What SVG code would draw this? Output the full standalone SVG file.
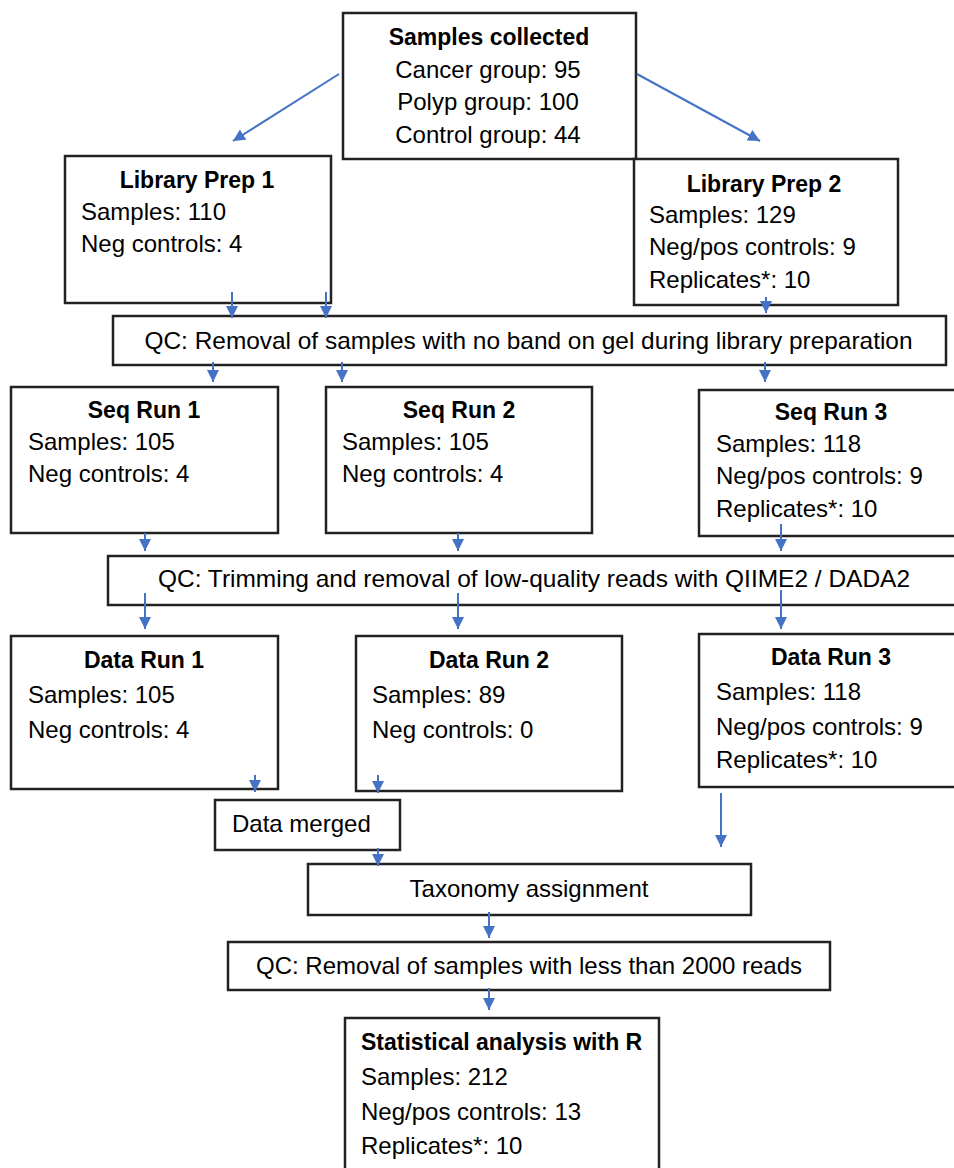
<svg xmlns="http://www.w3.org/2000/svg" width="954" height="1168" viewBox="0 0 954 1168">
<defs>
<marker id="ah" markerUnits="userSpaceOnUse" markerWidth="13" markerHeight="12" refX="12" refY="6" orient="auto">
<path d="M0,0 L12,6 L0,12 z" fill="#4472C4"/>
</marker>
<style>
.box{fill:#fff;stroke:#222;stroke-width:2.5}
.t{font-family:"Liberation Sans",Arial,sans-serif;font-size:24px;fill:#000}
.b{font-family:"Liberation Sans",Arial,sans-serif;font-size:23px;font-weight:bold;fill:#000}
.m{text-anchor:middle}
.c{stroke:#4472C4;stroke-width:2;fill:none;marker-end:url(#ah)}
</style>
</defs>
<rect width="954" height="1168" fill="#fff"/>
<g id="samples">
<rect class="box" x="343" y="13" width="293" height="146"/>
<text class="b m" x="489" y="45">Samples collected</text>
<text class="t m" x="488" y="78">Cancer group: 95</text>
<text class="t m" x="488" y="110">Polyp group: 100</text>
<text class="t m" x="488" y="143">Control group: 44</text>
</g>
<g id="libprep1">
<rect class="box" x="65" y="156" width="266" height="147"/>
<text class="b m" x="197" y="188">Library Prep 1</text>
<text class="t" x="81" y="220">Samples: 110</text>
<text class="t" x="81" y="252">Neg controls: 4</text>
</g>
<g id="libprep2">
<rect class="box" x="634" y="159" width="264" height="146"/>
<text class="b m" x="764" y="192">Library Prep 2</text>
<text class="t" x="649" y="223">Samples: 129</text>
<text class="t" x="649" y="255">Neg/pos controls: 9</text>
<text class="t" x="649" y="288">Replicates*: 10</text>
</g>
<g id="qc1">
<rect class="box" x="113" y="316" width="833" height="49"/>
<text class="t m" x="528.5" y="349" textLength="768" lengthAdjust="spacingAndGlyphs">QC: Removal of samples with no band on gel during library preparation</text>
</g>
<g id="seq1">
<rect class="box" x="11" y="387" width="267" height="146"/>
<text class="b m" x="144" y="418">Seq Run 1</text>
<text class="t" x="28" y="450">Samples: 105</text>
<text class="t" x="28" y="482">Neg controls: 4</text>
</g>
<g id="seq2">
<rect class="box" x="326" y="387" width="266" height="146"/>
<text class="b m" x="459" y="418">Seq Run 2</text>
<text class="t" x="342" y="450">Samples: 105</text>
<text class="t" x="342" y="482">Neg controls: 4</text>
</g>
<g id="seq3">
<rect class="box" x="699" y="390" width="270" height="146"/>
<text class="b m" x="831" y="420">Seq Run 3</text>
<text class="t" x="716" y="452">Samples: 118</text>
<text class="t" x="716" y="484">Neg/pos controls: 9</text>
<text class="t" x="716" y="517">Replicates*: 10</text>
</g>
<g id="qc2">
<rect class="box" x="108" y="556" width="862" height="49"/>
<text class="t m" x="534" y="587" textLength="752" lengthAdjust="spacingAndGlyphs">QC: Trimming and removal of low-quality reads with QIIME2 / DADA2</text>
</g>
<g id="data1">
<rect class="box" x="11" y="636" width="267" height="153"/>
<text class="b m" x="144" y="668">Data Run 1</text>
<text class="t" x="28" y="703">Samples: 105</text>
<text class="t" x="28" y="738">Neg controls: 4</text>
</g>
<g id="data2">
<rect class="box" x="356" y="636" width="266" height="155"/>
<text class="b m" x="489" y="668">Data Run 2</text>
<text class="t" x="372" y="703">Samples: 89</text>
<text class="t" x="372" y="738">Neg controls: 0</text>
</g>
<g id="data3">
<rect class="box" x="699" y="634" width="270" height="153"/>
<text class="b m" x="831" y="665">Data Run 3</text>
<text class="t" x="716" y="700">Samples: 118</text>
<text class="t" x="716" y="735">Neg/pos controls: 9</text>
<text class="t" x="716" y="768">Replicates*: 10</text>
</g>
<g id="merged">
<rect class="box" x="215" y="800" width="185" height="50"/>
<text class="t" x="232" y="832">Data merged</text>
</g>
<g id="taxonomy">
<rect class="box" x="308" y="864" width="443" height="51"/>
<text class="t m" x="529" y="897">Taxonomy assignment</text>
</g>
<g id="qc3">
<rect class="box" x="228" y="942" width="602" height="48"/>
<text class="t m" x="529" y="974" textLength="546" lengthAdjust="spacingAndGlyphs">QC: Removal of samples with less than 2000 reads</text>
</g>
<g id="stats">
<rect class="box" x="345" y="1018" width="314" height="170"/>
<text class="b" x="361" y="1050">Statistical analysis with R</text>
<text class="t" x="361" y="1085">Samples: 212</text>
<text class="t" x="361" y="1120">Neg/pos controls: 13</text>
<text class="t" x="361" y="1154">Replicates*: 10</text>
</g>
<g id="connectors">
<line class="c" x1="339" y1="74" x2="233" y2="141"/>
<line class="c" x1="637" y1="74" x2="760" y2="141"/>
<line class="c" x1="232" y1="292" x2="232" y2="318"/>
<line class="c" x1="326" y1="292" x2="326" y2="318"/>
<line class="c" x1="766" y1="297" x2="766" y2="313"/>
<line class="c" x1="213" y1="362" x2="213" y2="382"/>
<line class="c" x1="342" y1="362" x2="342" y2="382"/>
<line class="c" x1="765" y1="362" x2="765" y2="382"/>
<line class="c" x1="145" y1="533" x2="145" y2="551"/>
<line class="c" x1="458" y1="533" x2="458" y2="551"/>
<line class="c" x1="781" y1="524" x2="781" y2="551"/>
<line class="c" x1="145" y1="593" x2="145" y2="629"/>
<line class="c" x1="458" y1="593" x2="458" y2="629"/>
<line class="c" x1="781" y1="590" x2="781" y2="629"/>
<line class="c" x1="255" y1="775" x2="255" y2="792"/>
<line class="c" x1="378" y1="775" x2="378" y2="793"/>
<line class="c" x1="378" y1="848" x2="378" y2="866"/>
<line class="c" x1="721" y1="793" x2="721" y2="847"/>
<line class="c" x1="489" y1="912" x2="489" y2="938"/>
<line class="c" x1="489" y1="988" x2="489" y2="1010"/>
</g>
</svg>
